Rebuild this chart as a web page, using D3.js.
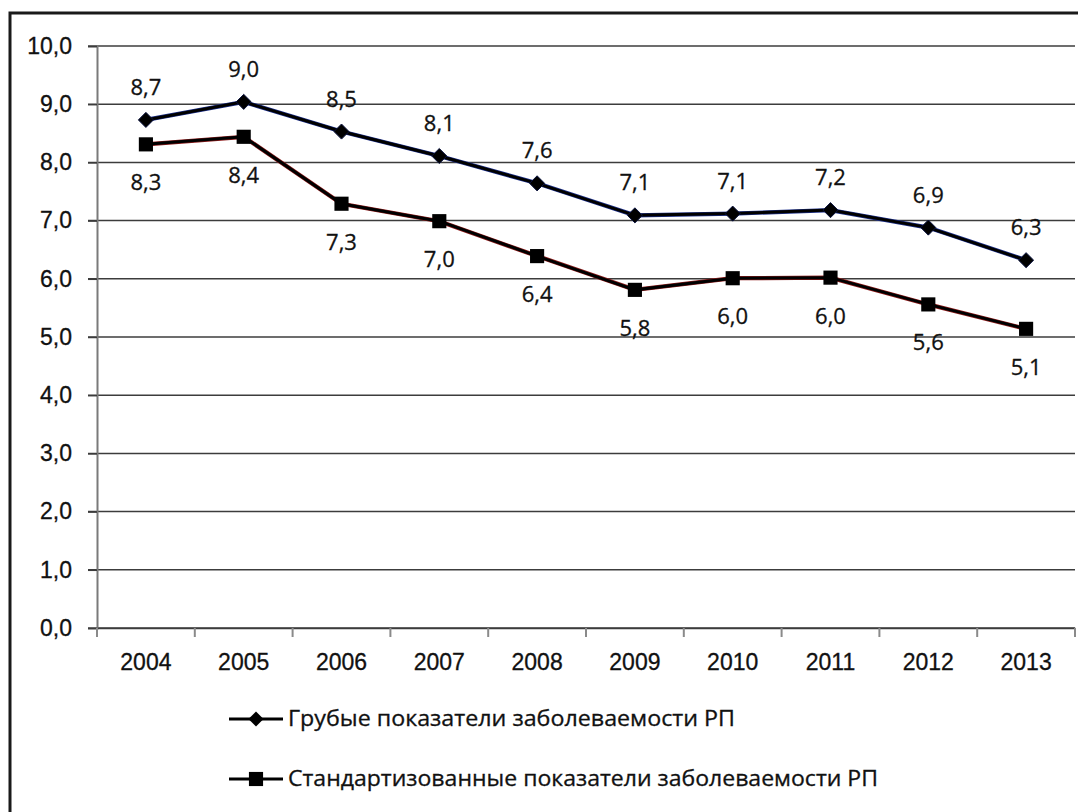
<!DOCTYPE html>
<html>
<head>
<meta charset="utf-8">
<script src="https://cdn.jsdelivr.net/npm/d3@7"></script>
<style>
  html, body { margin: 0; padding: 0; background: #fff; }
  svg { display: block; font-family: "Open Sans", "Noto Sans", sans-serif; }
</style>
</head>
<body>
<svg id="chart" width="1078" height="812"></svg>
<script>
// Incidence rates by year
const years = ["2004", "2005", "2006", "2007", "2008", "2009", "2010", "2011", "2012", "2013"];
const crudeRates = [8.73, 9.04, 8.53, 8.11, 7.64, 7.09, 7.12, 7.18, 6.88, 6.32];
const standardizedRates = [8.31, 8.44, 7.29, 6.99, 6.39, 5.81, 6.01, 6.02, 5.56, 5.14];
const yTicks = [0, 1, 2, 3, 4, 5, 6, 7, 8, 9, 10];
const seriesNames = [
  "Грубые показатели заболеваемости РП",
  "Стандартизованные показатели заболеваемости РП"
];

const svg = d3.select("#chart");
const fmt = v => v.toFixed(1).replace(".", ",");

const plot = { left: 97, right: 1075, top: 46, bottom: 628 };

const x = d3.scaleBand().domain(years).range([plot.left, plot.right]).padding(0);
const y = d3.scaleLinear().domain([0, 10]).range([plot.bottom, plot.top]);

// outer frame
svg.append("rect")
  .attr("x", 10).attr("y", 13)
  .attr("width", 1200).attr("height", 1000)
  .attr("fill", "#fff")
  .attr("stroke", "#1a1a1a").attr("stroke-width", 3);

// horizontal gridlines
svg.append("g").selectAll("line")
  .data(yTicks)
  .join("line")
  .attr("x1", plot.left - 9).attr("x2", plot.right)
  .attr("y1", d => y(d)).attr("y2", d => y(d))
  .attr("stroke", "#3c3c3c").attr("stroke-width", 1.5);

// y axis
const yAxis = svg.append("g")
  .attr("transform", `translate(${plot.left},0)`)
  .call(d3.axisLeft(y).tickValues(yTicks).tickSize(9).tickPadding(16).tickFormat(fmt));
yAxis.select(".domain").attr("stroke", "#7a7a7a").attr("stroke-width", 2);
yAxis.selectAll(".tick line").attr("stroke", "#3c3c3c").attr("stroke-width", 1.5);
yAxis.selectAll("text").attr("font-size", 23).attr("fill", "#111")
  .attr("stroke", "#111").attr("stroke-width", 0.3);

// x axis
const xAxis = svg.append("g")
  .attr("transform", `translate(0,${plot.bottom})`)
  .call(d3.axisBottom(x).tickSize(0).tickPadding(26));
xAxis.select(".domain").attr("stroke", "#3c3c3c").attr("stroke-width", 1.5);
xAxis.selectAll("text").attr("font-size", 23).attr("fill", "#111")
  .attr("stroke", "#111").attr("stroke-width", 0.3);

// category boundary ticks
const bounds = years.map(d => x(d)).concat([plot.right]);
svg.append("g").selectAll("line")
  .data(bounds)
  .join("line")
  .attr("x1", d => d).attr("x2", d => d)
  .attr("y1", plot.bottom).attr("y2", plot.bottom + 9)
  .attr("stroke", "#8a8a8a").attr("stroke-width", 2);

const cx = d => x(d) + x.bandwidth() / 2;
const line = d3.line().x(d => cx(d.year)).y(d => y(d.v));

const s1 = years.map((yr, i) => ({ year: yr, v: crudeRates[i] }));
const s2 = years.map((yr, i) => ({ year: yr, v: standardizedRates[i] }));

function drawSeries(data, fringe) {
  const g = svg.append("g");
  g.append("path").datum(data).attr("d", line)
    .attr("fill", "none").attr("stroke", fringe).attr("stroke-width", 4.2);
  g.append("path").datum(data).attr("d", line)
    .attr("fill", "none").attr("stroke", "#000").attr("stroke-width", 3);
  return g;
}

const diamond = d3.symbol().type(d3.symbolDiamond2).size(145);
const square = d3.symbol().type(d3.symbolSquare).size(200);

const g1 = drawSeries(s1, "#1c2f8a");
g1.selectAll("path.m").data(s1).join("path").attr("class", "m")
  .attr("d", diamond)
  .attr("transform", d => `translate(${cx(d.year)},${y(d.v)})`)
  .attr("fill", "#000").attr("stroke", "#0b1440").attr("stroke-width", 1);

const g2 = drawSeries(s2, "#8e1b1b");
g2.selectAll("path.m").data(s2).join("path").attr("class", "m")
  .attr("d", square)
  .attr("transform", d => `translate(${cx(d.year)},${y(d.v)})`)
  .attr("fill", "#000");

// value labels
svg.append("g").selectAll("text")
  .data(s1).join("text")
  .attr("x", d => cx(d.year)).attr("y", d => y(d.v) - 25)
  .attr("text-anchor", "middle").attr("font-size", 22).attr("fill", "#111")
  .attr("stroke", "#111").attr("stroke-width", 0.3)
  .text(d => fmt(d.v));

svg.append("g").selectAll("text")
  .data(s2).join("text")
  .attr("x", d => cx(d.year)).attr("y", d => y(d.v) + 46)
  .attr("text-anchor", "middle").attr("font-size", 22).attr("fill", "#111")
  .attr("stroke", "#111").attr("stroke-width", 0.3)
  .text(d => fmt(d.v));

// legend
const legendRows = [
  { name: seriesNames[0], y: 719, sym: diamond, fringe: "#1c2f8a", len: 447 },
  { name: seriesNames[1], y: 779, sym: square, fringe: "#8e1b1b", len: 590 }
];
const lg = svg.append("g").selectAll("g").data(legendRows).join("g");
lg.append("line")
  .attr("x1", 229).attr("x2", 283).attr("y1", d => d.y).attr("y2", d => d.y)
  .attr("stroke", "#000").attr("stroke-width", 3);
lg.append("path")
  .attr("d", d => d.sym())
  .attr("transform", d => `translate(256,${d.y})`)
  .attr("fill", "#000");
lg.append("text")
  .attr("x", 288).attr("y", d => d.y + 7)
  .attr("font-size", 21).attr("fill", "#111")
  .attr("stroke", "#111").attr("stroke-width", 0.3)
  .attr("textLength", d => d.len).attr("lengthAdjust", "spacingAndGlyphs")
  .text(d => d.name);
</script>
</body>
</html>
